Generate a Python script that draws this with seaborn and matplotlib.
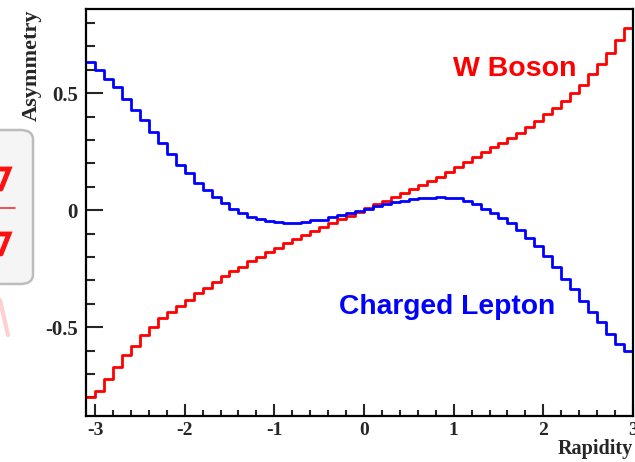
import numpy as np
import matplotlib.pyplot as plt
import seaborn as sns
from matplotlib.patches import FancyBboxPatch
from matplotlib.lines import Line2D
from matplotlib.ticker import MultipleLocator

# histogram binning: 61 bins of 0.1 starting at -3.1
bin_low = -3.1
bin_width = 0.1

w_boson = [
    -0.800, -0.772, -0.721, -0.671, -0.618, -0.580, -0.533, -0.500, -0.460, -0.436,
    -0.410, -0.385, -0.353, -0.332, -0.308, -0.282, -0.262, -0.242, -0.219, -0.199,
    -0.180, -0.160, -0.140, -0.123, -0.107, -0.090, -0.073, -0.056, -0.038, -0.023,
    -0.006, 0.009, 0.026, 0.040, 0.057, 0.074, 0.091, 0.108, 0.125, 0.142,
    0.163, 0.185, 0.205, 0.228, 0.249, 0.268, 0.287, 0.308, 0.332, 0.357,
    0.382, 0.411, 0.437, 0.468, 0.501, 0.537, 0.583, 0.626, 0.672, 0.729,
    0.779,
]
charged_lepton = [
    0.632, 0.601, 0.561, 0.527, 0.477, 0.427, 0.385, 0.335, 0.285, 0.238,
    0.195, 0.157, 0.117, 0.085, 0.057, 0.029, 0.007, -0.011, -0.028, -0.038,
    -0.046, -0.051, -0.054, -0.054, -0.050, -0.044, -0.040, -0.030, -0.021, -0.013,
    -0.003, 0.007, 0.017, 0.026, 0.033, 0.040, 0.046, 0.053, 0.054, 0.057,
    0.053, 0.050, 0.039, 0.025, 0.006, -0.011, -0.032, -0.055, -0.084, -0.118,
    -0.155, -0.198, -0.244, -0.294, -0.337, -0.387, -0.435, -0.480, -0.530, -0.571,
    -0.602,
]
x_ticks = [-3, -2, -1, 0, 1, 2, 3]
y_ticks = [-0.5, 0, 0.5]
y_tick_labels = ['-0.5', '0', '0.5']

sns.set_style('white')
plt.rcParams['font.family'] = ['Liberation Serif', 'DejaVu Serif']
plt.rcParams['font.weight'] = 'bold'

edges = bin_low + bin_width * np.arange(len(w_boson) + 1)

fig = plt.figure(figsize=(6.35, 4.62), dpi=100)
W, H = 635, 462

# clipped slide decoration on the far left (box with red strokes)
box = FancyBboxPatch((-20 / W, 1 - 284 / H), 53 / W, 154 / H,
                     boxstyle='round,pad=0,rounding_size=0.02',
                     transform=fig.transFigure, facecolor='#f5f5f5',
                     edgecolor='#bdbdbd', lw=1.8, zorder=0)
fig.patches.append(box)
fig.lines.append(Line2D([0, 15 / W], [1 - 208 / H, 1 - 208 / H],
                        transform=fig.transFigure, color='#ff3030', lw=1.2))
for top in [169, 234]:
    fig.lines.append(Line2D([0, 9 / W, 1 / W], [1 - top / H, 1 - top / H, 1 - (top + 20) / H],
                            transform=fig.transFigure, color='#ff1010', lw=3.5,
                            solid_joinstyle='miter'))
fig.lines.append(Line2D([0, 8 / W], [1 - 300 / H, 1 - 335 / H],
                        transform=fig.transFigure, color='#ffd0d0', lw=3))

ax = fig.add_axes([86 / W, 1 - 416 / H, (633 - 86) / W, (416 - 9) / H])

sns.lineplot(x=edges, y=w_boson + [w_boson[-1]], ax=ax, color='#ff0000',
             drawstyle='steps-post', lw=2.0, estimator=None)
sns.lineplot(x=edges, y=charged_lepton + [charged_lepton[-1]], ax=ax,
             color='#0000ff', drawstyle='steps-post', lw=2.0, estimator=None)

ax.set_xlim(-3.1, 3.0)
ax.set_ylim(-0.88, 0.86)

ax.set_xticks(x_ticks)
ax.set_xticklabels([str(t) for t in x_ticks])
ax.xaxis.set_minor_locator(MultipleLocator(0.2))
ax.set_yticks(y_ticks)
ax.set_yticklabels(y_tick_labels)
ax.yaxis.set_minor_locator(MultipleLocator(0.1))

ax.tick_params(axis='x', which='major', direction='in', length=8.5, width=1.5,
               labelsize=14, pad=4)
ax.tick_params(axis='x', which='minor', direction='in', length=4, width=1.5)
ax.tick_params(axis='y', which='major', direction='in', length=12, width=1.5,
               labelsize=15, pad=6)
ax.tick_params(axis='y', which='minor', direction='in', length=6.5, width=1.5)
ax.tick_params(bottom=True, left=True, top=False, right=False, which='both')

for s in ax.spines.values():
    s.set_color('black')
    s.set_linewidth(1.6)

ax.set_xlabel('Rapidity', loc='right', fontsize=14.5, fontweight='bold', labelpad=0)
ax.set_ylabel('Asymmetry', loc='top', fontsize=16, fontweight='bold', labelpad=2)

ax.text(0.99, 0.605, 'W Boson', color='#ff0000', fontsize=20.5,
        family='Liberation Sans', weight='bold', ha='left', va='center')
ax.text(-0.28, -0.415, 'Charged Lepton', color='#0000ff', fontsize=20.3,
        family='Liberation Sans', weight='bold', ha='left', va='center')

fig.savefig('out.png', dpi=100)
